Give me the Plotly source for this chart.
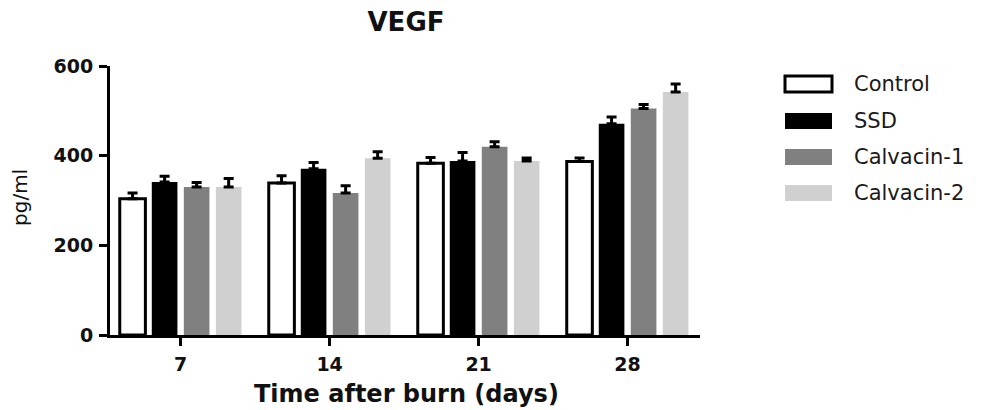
import plotly.graph_objects as go

days = ["7", "14", "21", "28"]
series_names = ["Control", "SSD", "Calvacin-1", "Calvacin-2"]
control = [304, 339, 383, 387]
ssd = [341, 371, 388, 471]
calvacin1 = [330, 317, 420, 505]
calvacin2 = [330, 394, 388, 542]
control_err = [13, 16, 13, 8]
ssd_err = [13, 14, 19, 15]
calvacin1_err = [10, 16, 11, 9]
calvacin2_err = [19, 15, 7, 18]
y_ticks = [0, 200, 400, 600]

values = [control, ssd, calvacin1, calvacin2]
errors = [control_err, ssd_err, calvacin1_err, calvacin2_err]
fills = ["#ffffff", "#000000", "#808080", "#d0d0d0"]
line_w = [3, 0, 0, 0]

# the page body margin is removed, so the figure fills the window exactly
W, H = 1006, 410
L, R, T, B = 110, 700, 66, 335

fig = go.Figure()
for name, v, e, c, lw in zip(series_names, values, errors, fills, line_w):
    fig.add_trace(go.Bar(
        x=days, y=v, name=name,
        marker=dict(color=c, line=dict(color="#000000", width=lw)),
        error_y=dict(type="data", array=e, arrayminus=[0] * len(e),
                     symmetric=False, color="#000000", thickness=3, width=5),
        showlegend=False,
    ))

def px_x(p):
    return (p - L) / (R - L)

def px_y(p):
    return (B - p) / (B - T)

# manual legend
shapes = []
annotations = []
rows = [84, 121, 157, 193]
for name, c, lw, yc in zip(series_names, fills, line_w, rows):
    shapes.append(dict(
        type="rect", xref="paper", yref="paper",
        x0=px_x(785), x1=px_x(832), y0=px_y(yc + 8), y1=px_y(yc - 8),
        fillcolor=c, line=dict(color="#000000", width=lw if lw else 0),
    ))
    annotations.append(dict(
        xref="paper", yref="paper", x=px_x(852), y=px_y(yc),
        xanchor="left", yanchor="middle", showarrow=False, text=name,
        font=dict(family="DejaVu Sans", size=21, color="#1a1a1a"),
    ))

annotations.append(dict(
    xref="paper", yref="paper", x=px_x(20), y=px_y(198),
    xanchor="center", yanchor="middle", showarrow=False, text="pg/ml",
    textangle=-90, font=dict(family="DejaVu Sans", size=20, color="#111111"),
))
annotations.append(dict(
    xref="paper", yref="paper", x=px_x(406), y=px_y(394),
    xanchor="center", yanchor="middle", showarrow=False,
    text="Time after burn (days)",
    font=dict(family="DejaVu Sans", size=24, weight="bold", color="#111111"),
))

fig.update_layout(
    template="none",
    width=W, height=H, autosize=False,
    margin=dict(l=L, r=W - R, t=T, b=H - B, pad=0, autoexpand=False),
    paper_bgcolor="white", plot_bgcolor="white",
    barmode="group", bargap=0.14, bargroupgap=0.2,
    title=dict(text="VEGF", x=px_x(406), xref="paper", xanchor="center",
               y=1 - 22 / H, yref="container", yanchor="middle",
               font=dict(family="DejaVu Sans", size=26, weight="bold", color="#111111")),
    xaxis=dict(
        type="category", range=[-0.474, 3.486], automargin=False,
        showline=True, linecolor="#000000", linewidth=3,
        ticks="outside", ticklen=8, tickwidth=3, tickcolor="#000000",
        showgrid=False, zeroline=False, ticklabelstandoff=2,
        tickfont=dict(family="DejaVu Sans", size=19, weight="bold", color="#111111"),
    ),
    yaxis=dict(
        range=[0, 600], tickvals=y_ticks, automargin=False,
        showline=True, linecolor="#000000", linewidth=3,
        ticks="outside", ticklen=8, tickwidth=3, tickcolor="#000000",
        showgrid=False, zeroline=False, ticklabelstandoff=2,
        tickfont=dict(family="DejaVu Sans", size=19, weight="bold", color="#111111"),
    ),
    shapes=shapes, annotations=annotations,
)

fig.write_html("out.html", config={"displayModeBar": False},
               post_script="document.body.style.margin='0';document.body.style.overflow='hidden';")
